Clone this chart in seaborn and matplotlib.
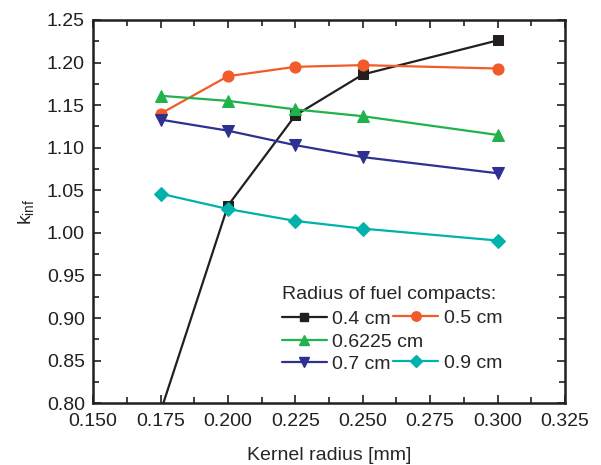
import numpy as np
import pandas as pd
import matplotlib
matplotlib.use("Agg")
import matplotlib.pyplot as plt
from matplotlib.lines import Line2D
from matplotlib.ticker import MultipleLocator, FormatStrFormatter
import seaborn as sns

# data
kernel_radius = [0.175, 0.200, 0.225, 0.250, 0.300]
k_04 = [0.79, 1.032, 1.138, 1.186, 1.226]
k_05 = [1.140, 1.184, 1.195, 1.197, 1.193]
k_06225 = [1.161, 1.155, 1.145, 1.137, 1.115]
k_07 = [1.133, 1.120, 1.103, 1.089, 1.070]
k_09 = [1.046, 1.028, 1.014, 1.005, 0.991]

labels = ["0.4 cm", "0.5 cm", "0.6225 cm", "0.7 cm", "0.9 cm"]
colors = ["#231f20", "#f15a29", "#22b24c", "#2e3192", "#00b2a9"]
markers = ["s", "o", "^", "v", "D"]
msizes = [7, 8, 8.5, 8.5, 7]

sns.set_style("ticks")
plt.rcParams["font.family"] = ["Liberation Sans", "DejaVu Sans"]
plt.rcParams["mathtext.default"] = "regular"

fig = plt.figure(figsize=(6.01, 4.65), dpi=100)
ax = fig.add_axes([0.155, 0.133, 0.785, 0.824])

series = [k_04, k_05, k_06225, k_07, k_09]
handles = []
for vals, lab, c, m, ms in zip(series, labels, colors, markers, msizes):
    sns.lineplot(x=kernel_radius, y=vals, color=c, marker=m, markersize=ms,
                 markeredgecolor=c, linewidth=1.6, ax=ax)
    handles.append(Line2D([], [], color=c, marker=m, markersize=ms * 0.85,
                          markeredgecolor=c, linewidth=1.6, label=lab))

ax.set_xlim(0.150, 0.325)
ax.set_ylim(0.80, 1.25)
ax.xaxis.set_major_locator(MultipleLocator(0.025))
ax.xaxis.set_minor_locator(MultipleLocator(0.0125))
ax.yaxis.set_major_locator(MultipleLocator(0.05))
ax.yaxis.set_minor_locator(MultipleLocator(0.025))
ax.xaxis.set_major_formatter(FormatStrFormatter("%.3f"))
ax.yaxis.set_major_formatter(FormatStrFormatter("%.2f"))
ax.tick_params(which="both", direction="in", top=True, right=True,
               labelsize=14, width=1.2, colors="#231f20")
ax.tick_params(which="major", length=6)
ax.tick_params(which="minor", length=4)
ax.tick_params(axis="y", pad=6)
ax.tick_params(axis="x", pad=7)
for sp in ax.spines.values():
    sp.set_linewidth(1.8)
    sp.set_color("#231f20")

ax.set_xlabel("Kernel radius [mm]", fontsize=14, labelpad=12)
ax.set_ylabel("k$_{inf}$", fontsize=14, labelpad=8)

# legend laid out like the original: two columns, second one shorter
leg1 = ax.legend(handles=[handles[0], handles[2], handles[3]],
                 title="Radius of fuel compacts:", loc="upper left",
                 bbox_to_anchor=(0.40, 0.307), frameon=False, fontsize=14,
                 title_fontsize=14, handlelength=2.3, handletextpad=0.3,
                 labelspacing=0.25, borderpad=0, borderaxespad=0)
leg1._legend_box.align = "left"
leg1._legend_box.sep = 5.7
ax.add_artist(leg1)
blank = Line2D([], [], linestyle="none", label=" ")
ax.legend(handles=[handles[1], blank, handles[4]], loc="upper left",
          bbox_to_anchor=(0.636, 0.244), frameon=False, fontsize=14,
          handlelength=2.3, handletextpad=0.3, labelspacing=0.25,
          borderpad=0, borderaxespad=0)

fig.savefig("out.png", dpi=100)
